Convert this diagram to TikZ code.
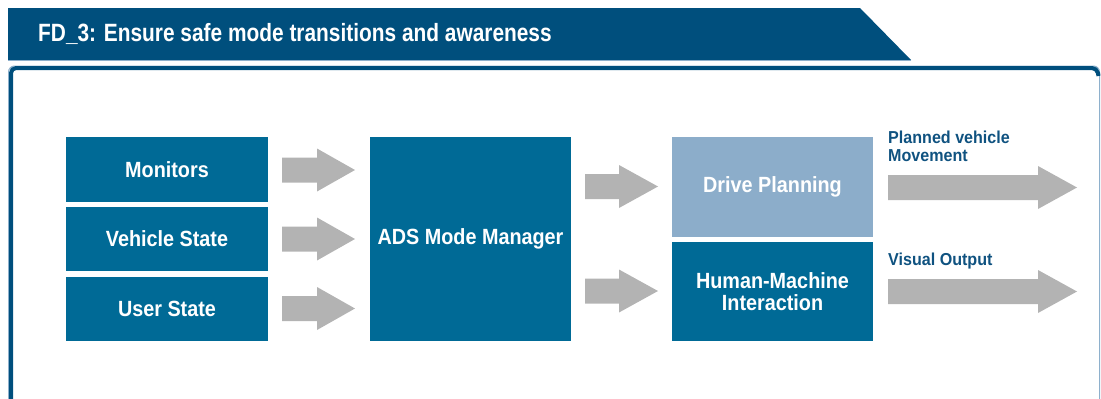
\documentclass[tikz,border=0pt]{standalone}
\usepackage{fontspec}
\setmainfont{Liberation Sans}
\newfontfamily\titlefont{Liberation Sans}[FakeStretch=0.835]
\newfontfamily\boxfont{Liberation Sans}[FakeStretch=0.9]
\newfontfamily\labfont{Liberation Sans}[FakeStretch=0.93]
\definecolor{titleblue}{HTML}{004F7D}
\definecolor{boxblue}{HTML}{006A96}
\definecolor{paleblue}{HTML}{8CADCA}
\definecolor{lightline}{HTML}{8EB0CC}
\definecolor{arrowgray}{HTML}{B3B3B3}
\definecolor{labblue}{HTML}{0F5280}
\newcommand\blockarrow[4]{%
  \fill[arrowgray] (#1,#4-12.5) -- (#2,#4-12.5) -- (#2,#4-21.5) -- (#3,#4)
    -- (#2,#4+21.5) -- (#2,#4+12.5) -- (#1,#4+12.5) -- cycle;}
\tikzset{
  box/.style={rectangle, fill=boxblue, text=white, inner sep=0pt, align=center,
    font=\boxfont\bfseries\fontsize{22}{22}\selectfont},
  lab/.style={anchor=base west, inner sep=0pt, text=labblue, align=left,
    font=\labfont\bfseries\fontsize{17.3}{18}\selectfont}
}
\begin{document}
\begin{tikzpicture}[x=1pt,y=-1pt]
\useasboundingbox (0,0) rectangle (1101,399);
% title bar
\fill[titleblue] (8,8) -- (860,8) -- (911,60) -- (8,60) -- cycle;
\draw[lightline, line width=1pt] (8,60.5) -- (911,60.5);
\node[anchor=base west, inner sep=0pt, text=white,
  font=\titlefont\bfseries\fontsize{25}{26}\selectfont] (title) at (38,41)
  {FD\_3: Ensure safe mode transitions and awareness};
% frame
\draw[lightline, line width=1pt, rounded corners=6] (8.5,430) -- (8.5,66) -- (1099.5,66) -- (1099.5,430);
\draw[titleblue, line width=4pt, rounded corners=5] (11,430) -- (11,68) -- (1097,68) -- (1098.5,76);
% boxes
\node[box, minimum width=202, minimum height=64.5] (mon) at (167,169.5) {Monitors};
\node[box, minimum width=202, minimum height=64] (veh) at (167,239) {Vehicle State};
\node[box, minimum width=202, minimum height=64] (usr) at (167,308.7) {User State};
\node[box, minimum width=201, minimum height=204] (ads) at (470.5,239) {ADS Mode Manager};
\node[box, fill=paleblue, minimum width=201, minimum height=100] (dp) at (772.5,187) {Drive Planning};
\node[box, minimum width=201, minimum height=99.5] (hmi) at (772.5,291.5) {Human-Machine\\Interaction};
% block arrows
\blockarrow{282}{317}{355}{170}
\blockarrow{282}{317}{355}{239}
\blockarrow{282}{317}{355}{308.5}
\blockarrow{585}{619}{658}{186.5}
\blockarrow{585}{619}{658}{291}
\blockarrow{888}{1038}{1077}{187.5}
\blockarrow{888}{1038}{1077}{291.5}
% labels
\node[lab] (l1) at (888,161) {Planned vehicle\\Movement};
\node[lab] (l2) at (888,265) {Visual Output};
\end{tikzpicture}
\end{document}
